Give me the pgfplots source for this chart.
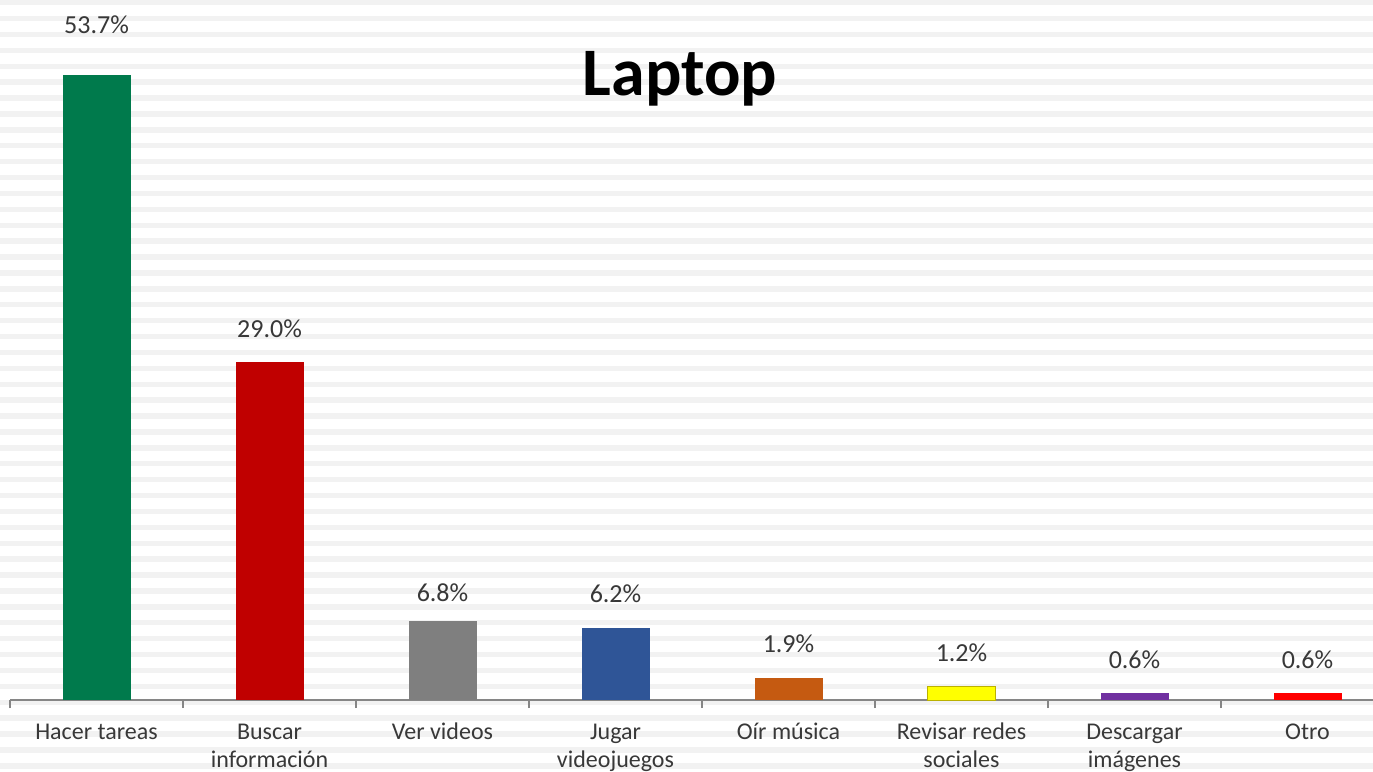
\documentclass[border=0pt]{standalone}
\usepackage{pgfplots}
\pgfplotsset{compat=1.18}
\usepackage{fontspec}
\setmainfont{Carlito}
\definecolor{cgreen}{RGB}{0,122,76}
\definecolor{cred}{RGB}{192,0,0}
\definecolor{cgray}{RGB}{127,127,127}
\definecolor{cblue}{RGB}{47,85,151}
\definecolor{corange}{RGB}{197,90,17}
\definecolor{cyellow}{RGB}{255,255,0}
\definecolor{cpurple}{RGB}{112,48,160}
\definecolor{cbright}{RGB}{255,0,0}
\definecolor{stripe}{RGB}{242,242,242}
\definecolor{axisgray}{RGB}{134,134,134}
\definecolor{txtgray}{RGB}{56,56,56}

\begin{document}
\begin{tikzpicture}
\path[use as bounding box] (-5pt,-36pt) rectangle (681.5pt,350pt);
\clip (-5pt,-36pt) rectangle (681.5pt,350pt);
% striped slide background
\foreach \k in {0,...,48}
  \fill[stripe] (-5pt,{350pt-\k*7.95pt}) rectangle (681.5pt,{350pt-\k*7.95pt-2.7pt});
\begin{axis}[
    at={(0,0)}, anchor=south west,
    x=86.5pt, y=5.82pt,
    xmin=-0.5, xmax=7.379, ymin=0, ymax=60.14,
    axis x line*=bottom, axis y line=none,
    axis line style={draw=axisgray, line width=0.8pt},
    xtick={0,...,7},
    xticklabels={\strut Hacer tareas,{\strut Buscar\\información},\strut Ver videos,{\strut Jugar\\videojuegos},\strut Oír música,{\strut Revisar redes\\sociales},{\strut Descargar\\imágenes},\strut Otro},
    major tick length=0pt,
    minor xtick={-0.5,0.5,...,6.5},
    minor tick length=4pt, tick align=outside,
    minor tick style={draw=axisgray, line width=0.8pt},
    xticklabel style={font=\fontsize{12}{14}\selectfont, text=txtgray, align=center, inner sep=0pt, anchor=north, yshift=-10pt},
    bar width=34pt,
    every axis plot/.append style={ybar, bar shift=0pt, draw=none},
    nodes near coords={\pgfmathprintnumber{\pgfplotspointmeta}\%},
    nodes near coords style={font=\fontsize{13}{15}\selectfont, text=txtgray, inner sep=0pt, anchor=base, yshift=12.5pt},
    clip=false,
    /pgf/number format/fixed, /pgf/number format/fixed zerofill,
    /pgf/number format/precision=1, /pgf/number format/assume math mode=true,
]
\addplot[fill=cgreen, nodes near coords style={yshift=8pt}] coordinates {(0,53.7)};
\addplot[fill=cred] coordinates {(1,29.0)};
\addplot[fill=cgray, nodes near coords style={yshift=-3pt}] coordinates {(2,6.8)};
\addplot[fill=cblue] coordinates {(3,6.2)};
\addplot[fill=corange] coordinates {(4,1.9)};
\addplot[fill=cyellow, draw=olive!60!yellow, line width=0.4pt] coordinates {(5,1.2)};
\addplot[fill=cpurple] coordinates {(6,0.6)};
\addplot[fill=cbright] coordinates {(7,0.6)};
\node[anchor=base, font=\fontsize{34}{40}\selectfont\bfseries] at (axis cs:3.373,51.9) {Laptop};
\end{axis}
\end{tikzpicture}
\end{document}
